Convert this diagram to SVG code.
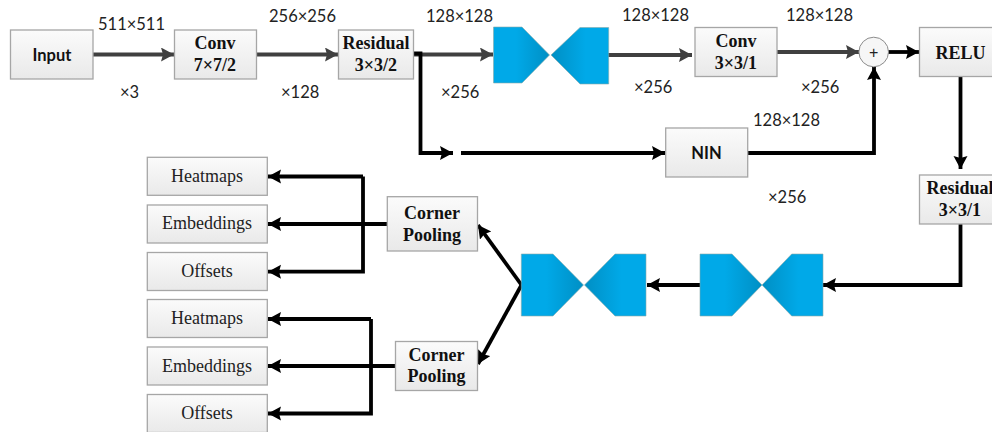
<svg xmlns="http://www.w3.org/2000/svg" width="992" height="432" viewBox="0 0 992 432">
<style>
.box{fill:url(#boxg);stroke:#a6a6a6;stroke-width:1.3}
.b{font-family:"Liberation Serif",serif;font-weight:bold;font-size:18px;fill:#111;text-anchor:middle}
.r{font-family:"Liberation Serif",serif;font-size:18px;fill:#222;text-anchor:middle}
.s{font-family:Lato,"Liberation Sans",sans-serif;font-size:16.5px;fill:#222}
.m{font-family:Lato,"Liberation Sans",sans-serif;font-weight:bold;font-size:16.5px;fill:#111;text-anchor:middle}
.gy{fill:none;stroke:#404040;stroke-width:4;marker-end:url(#ag)}
.bk{fill:none;stroke:#000;stroke-width:3.8;stroke-linejoin:miter;marker-end:url(#ab)}
.hl{fill:url(#hL);stroke:#8aa;stroke-width:.6}
.hr{fill:url(#hR);stroke:#8aa;stroke-width:.6}
</style>
<defs>
<linearGradient id="boxg" x1="0" y1="0" x2="0" y2="1"><stop offset="0" stop-color="#fbfbfb"/><stop offset="1" stop-color="#e9e9e9"/></linearGradient>
<linearGradient id="hL" x1="0" y1="0" x2="1" y2="0"><stop offset=".4" stop-color="#00a9e8"/><stop offset="1" stop-color="#008fc4"/></linearGradient>
<linearGradient id="hR" x1="1" y1="0" x2="0" y2="0"><stop offset=".4" stop-color="#00a9e8"/><stop offset="1" stop-color="#008fc4"/></linearGradient>
<marker id="ag" markerUnits="userSpaceOnUse" markerWidth="15" markerHeight="15" refX="13" refY="7" orient="auto"><path d="M0 0L13 7L0 14L2 7Z" fill="#404040"/></marker>
<marker id="ab" markerUnits="userSpaceOnUse" markerWidth="15" markerHeight="15" refX="13" refY="7" orient="auto"><path d="M0 0L13 7L0 14L2 7Z" fill="#000"/></marker>
</defs>
<g id="connectors">
<path class="gy" d="M93 54.500H174"/>
<path class="gy" d="M255 54.500H338"/>
<path class="gy" d="M413 54.500H493"/>
<path class="gy" d="M608 55H692"/>
<path class="gy" d="M776 52H859"/>
<path class="bk" d="M888 52H919"/>
<path class="bk" d="M413 53.500H420.500V153H453"/>
<path class="bk" d="M461 153H665"/>
<path class="bk" d="M746 153H874V67"/>
<path class="bk" d="M960.500 76V169"/>
<path class="bk" d="M960.500 224V285H823"/>
<path class="bk" d="M702 285H647"/>
<path class="bk" d="M521.500 285L478 225"/>
<path class="bk" d="M521.500 285L478 364"/>
<path class="bk" d="M387 224H268"/>
<path class="bk" d="M363 176.500H268"/>
<path class="bk" d="M363 176.500V271.700H268"/>
<path class="bk" d="M395 366H268"/>
<path class="bk" d="M371 319H268"/>
<path class="bk" d="M371 319V413.500H268"/>
</g>
<g id="input"><rect class="box" x="10.500" y="30" width="82.500" height="49"/><text class="m" x="52" y="60.500">Input</text></g>
<g id="conv1"><rect class="box" x="174.500" y="30" width="82" height="49"/><text class="b" x="215" y="49">Conv</text><text class="b" x="215" y="71">7×7/2</text></g>
<g id="residual1"><rect class="box" x="338.500" y="30" width="75" height="49"/><text class="b" x="376" y="49">Residual</text><text class="b" x="376" y="71">3×3/2</text></g>
<g id="hourglass1"><path class="hl" d="M493.500 27H522L549.500 55L522 83H493.500Z"/><path class="hr" d="M551 55L580 27.500H608.700V84H580Z"/></g>
<g id="conv2"><rect class="box" x="695" y="27.500" width="82" height="49"/><text class="b" x="736" y="47">Conv</text><text class="b" x="736" y="69">3×3/1</text></g>
<g id="plus"><circle cx="873.700" cy="52" r="14.800" fill="#f6f6f6" stroke="#8c8c8c" stroke-width="1"/><text x="873.700" y="58" font-family="Liberation Sans,sans-serif" font-size="16" text-anchor="middle" fill="#222">+</text></g>
<g id="relu"><rect class="box" x="919.500" y="27.500" width="75" height="49"/><text class="b" x="960.500" y="59">RELU</text></g>
<g id="nin"><rect class="box" x="665.700" y="128" width="82" height="49"/><text class="m" x="706.500" y="159">NIN</text></g>
<g id="residual2"><rect class="box" x="919.500" y="175" width="75" height="49"/><text class="b" x="960" y="194">Residual</text><text class="b" x="960" y="216">3×3/1</text></g>
<g id="hourglass3"><path class="hl" d="M700 254H732L762 285L732 316H700Z"/><path class="hr" d="M762 285L791.700 254H823V316H791.700Z"/></g>
<g id="hourglass2"><path class="hl" d="M521.300 254H553L583.500 285L553 316H521.300Z"/><path class="hr" d="M584.500 285L615 254H646V316H615Z"/></g>
<g id="corner1"><rect class="box" x="387.300" y="196.700" width="90.200" height="54.300"/><text class="b" x="432" y="219">Corner</text><text class="b" x="432" y="241">Pooling</text></g>
<g id="corner2"><rect class="box" x="395.500" y="341.500" width="82" height="49"/><text class="b" x="436.500" y="361">Corner</text><text class="b" x="436.500" y="382">Pooling</text></g>
<g id="heatmaps1"><rect class="box" x="147.300" y="157.300" width="120" height="38"/><text class="r" x="207" y="182">Heatmaps</text></g>
<g id="embeddings1"><rect class="box" x="147.300" y="205" width="120" height="38"/><text class="r" x="207" y="229">Embeddings</text></g>
<g id="offsets1"><rect class="box" x="147.300" y="252.500" width="120" height="38"/><text class="r" x="207" y="277">Offsets</text></g>
<g id="heatmaps2"><rect class="box" x="147.300" y="299.500" width="120" height="38"/><text class="r" x="207" y="324">Heatmaps</text></g>
<g id="embeddings2"><rect class="box" x="147.300" y="347" width="120" height="38"/><text class="r" x="207" y="372">Embeddings</text></g>
<g id="offsets2"><rect class="box" x="147.300" y="394.500" width="120" height="38"/><text class="r" x="207" y="419">Offsets</text></g>
<g id="labels">
<text class="s" x="98" y="30">511×511</text>
<text class="s" x="120" y="98">×3</text>
<text class="s" x="269" y="22">256×256</text>
<text class="s" x="281" y="98">×128</text>
<text class="s" x="426" y="22">128×128</text>
<text class="s" x="441" y="98">×256</text>
<text class="s" x="622" y="21">128×128</text>
<text class="s" x="634" y="93">×256</text>
<text class="s" x="786" y="21">128×128</text>
<text class="s" x="801" y="93">×256</text>
<text class="s" x="753" y="126">128×128</text>
<text class="s" x="768" y="203">×256</text>
</g>
</svg>
